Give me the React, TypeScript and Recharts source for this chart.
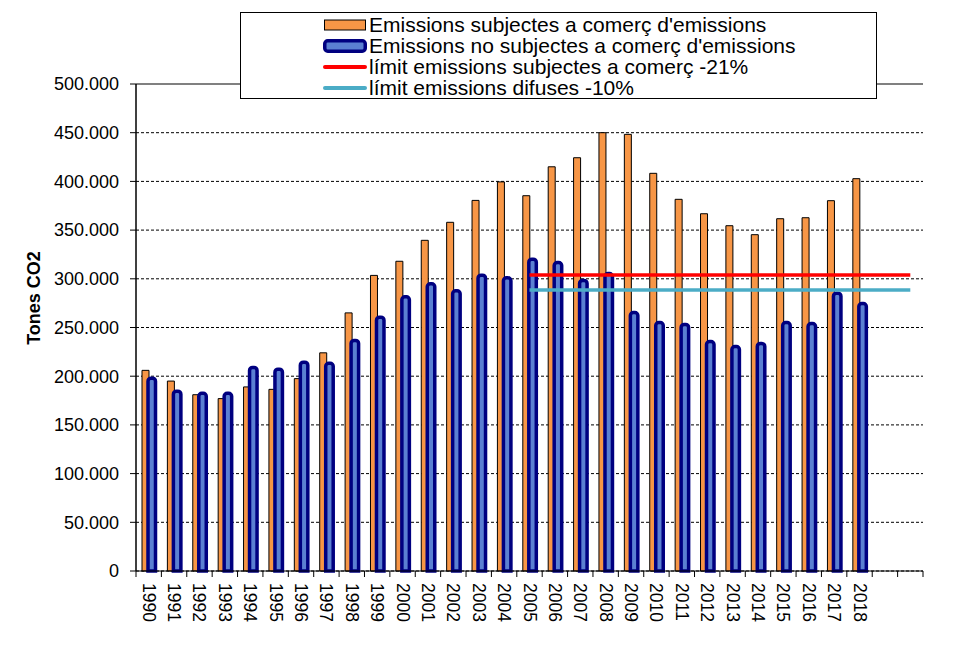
import {
  BarChart,
  Bar,
  Line,
  XAxis,
  YAxis,
  CartesianGrid,
  Legend,
  ReferenceLine,
} from 'recharts';

const years = [
  '1990', '1991', '1992', '1993', '1994', '1995', '1996', '1997', '1998', '1999',
  '2000', '2001', '2002', '2003', '2004', '2005', '2006', '2007', '2008', '2009',
  '2010', '2011', '2012', '2013', '2014', '2015', '2016', '2017', '2018', '', '',
];

// emissions subject to emissions trading (t CO2)
const tradeValues = [
  206000, 195000, 181000, 177000, 189000, 186500, 197500, 224000, 265000, 303500,
  318000, 339500, 358000, 380500, 399500, 385300, 415000, 424300, 450000, 448300,
  408300, 381600, 366800, 354500, 345300, 361700, 362700, 380200, 402800, null, null,
];

// emissions not subject to emissions trading (t CO2)
const nonTradeValues = [
  198000, 184600, 182500, 182500, 209000, 207200, 214400, 213300, 236700, 260600,
  281500, 294900, 287700, 303700, 301000, 320100, 316700, 298300, 305400, 265400,
  255100, 253100, 235600, 230500, 233600, 255100, 254100, 285200, 274600, null, null,
];

const limitTradeValues = [
  null, null, null, null, null, null, null, null, null, null,
  null, null, null, null, null, 304000, 304000, 304000, 304000, 304000,
  304000, 304000, 304000, 304000, 304000, 304000, 304000, 304000, 304000, 304000, 304000,
];

const limitDiffuseValues = [
  null, null, null, null, null, null, null, null, null, null,
  null, null, null, null, null, 288500, 288500, 288500, 288500, 288500,
  288500, 288500, 288500, 288500, 288500, 288500, 288500, 288500, 288500, 288500, 288500,
];

const yTicks = [0, 50000, 100000, 150000, 200000, 250000, 300000, 350000, 400000, 450000, 500000];

const seriesNames = {
  trade: "Emissions subjectes a comerç d'emissions",
  nonTrade: "Emissions no subjectes a comerç d'emissions",
  limitTrade: 'límit emissions subjectes a comerç -21%',
  limitDiffuse: 'límit emissions difuses -10%',
};

const data = years.map((year, i) => ({
  year,
  trade: tradeValues[i],
  nonTrade: nonTradeValues[i],
  limitTrade: limitTradeValues[i],
  limitDiffuse: limitDiffuseValues[i],
}));

const ORANGE = '#F79646';
const BLUE = '#5B80D2';
const NAVY = '#000080';
const RED = '#FF0000';
const CYAN = '#4BACC6';

const fmt = (n: number) => String(n).replace(/\B(?=(\d{3})+(?!\d))/g, '.');

function YearTick(props: any) {
  const { x, y, payload, index } = props;
  const half = payload?.offset ?? 12.7;
  const ty = y + 12;
  return (
    <g>
      <line x1={x - half} x2={x - half} y1={y} y2={y + 6} stroke="#000" />
      {index === years.length - 1 && (
        <line x1={x + half} x2={x + half} y1={y} y2={y + 6} stroke="#000" />
      )}
      <text
        x={x}
        y={ty}
        transform={`rotate(90, ${x}, ${ty})`}
        textAnchor="start"
        dominantBaseline="central"
        fontSize={17.5}
        fill="#000"
      >
        {payload.value}
      </text>
    </g>
  );
}

function LegendIcon({ kind }: { kind: string }) {
  if (kind === 'trade') {
    return (
      <svg width={44} height={14}>
        <rect x={1.5} y={2} width={41} height={10} fill={ORANGE} stroke="#000" strokeWidth={1} />
      </svg>
    );
  }
  if (kind === 'nonTrade') {
    return (
      <svg width={44} height={14}>
        <rect x={1.75} y={1.75} width={40.5} height={10.5} rx={3} fill={BLUE} stroke={NAVY} strokeWidth={3.5} />
      </svg>
    );
  }
  return (
    <svg width={44} height={14}>
      <line x1={2} x2={42} y1={7} y2={7} stroke={kind === 'limitTrade' ? RED : CYAN} strokeWidth={4} strokeLinecap="round" />
    </svg>
  );
}

function LegendBox() {
  const order = ['trade', 'nonTrade', 'limitTrade', 'limitDiffuse'] as const;
  return (
    <div
      style={{
        boxSizing: 'border-box',
        width: 637,
        height: 87,
        border: '1px solid #000',
        background: '#fff',
        paddingTop: 1,
      }}
    >
      {order.map((k) => (
        <div
          key={k}
          style={{ display: 'flex', alignItems: 'center', height: 21.2, paddingLeft: 82 }}
        >
          <LegendIcon kind={k} />
          <span style={{ fontSize: 21, color: '#000', marginLeft: 2, whiteSpace: 'nowrap' }}>
            {seriesNames[k]}
          </span>
        </div>
      ))}
    </div>
  );
}

export default function App() {
  return (
    <div
      style={{
        position: 'absolute',
        left: 0,
        top: 0,
        width: 967,
        height: 659,
        background: '#fff',
        fontFamily: '"Liberation Sans", Arial, sans-serif',
      }}
    >
      <BarChart
        width={967}
        height={659}
        data={data}
        margin={{ top: 84, right: 44, bottom: 0, left: 0 }}
        barGap={-1}
      >
        <CartesianGrid vertical={false} stroke="#000" strokeDasharray="3 2" />
        <XAxis
          dataKey="year"
          height={88}
          interval={0}
          tickLine={false}
          tickSize={0}
          tickMargin={0}
          axisLine={{ stroke: '#000', strokeWidth: 1 }}
          tick={<YearTick />}
        />
        <YAxis
          width={136}
          domain={[0, 500000]}
          ticks={yTicks}
          interval={0}
          tickFormatter={fmt}
          tickSize={6}
          tickMargin={11}
          tickLine={{ stroke: '#000' }}
          axisLine={{ stroke: '#000', strokeWidth: 1.5 }}
          tick={{ fill: '#000', fontSize: 18 }}
          label={{
            content: () => (
              <text
                x={34}
                y={298}
                transform="rotate(-90, 34, 298)"
                textAnchor="middle"
                dominantBaseline="central"
                fontSize={18}
                fontWeight="bold"
                fill="#000"
              >
                Tones CO2
              </text>
            ),
          }}
        />
        <YAxis
          yAxisId="frame"
          orientation="right"
          width={0}
          domain={[0, 1]}
          tick={false}
          tickLine={false}
          axisLine={{ stroke: '#808080', strokeWidth: 2 }}
        />
        <ReferenceLine y={500000} stroke="#808080" strokeWidth={2} />
        <Bar
          dataKey="trade"
          name={seriesNames.trade}
          fill={ORANGE}
          stroke="#000"
          strokeWidth={1}
          barSize={7}
          isAnimationActive={false}
        />
        <Bar
          dataKey="nonTrade"
          name={seriesNames.nonTrade}
          fill={BLUE}
          stroke={NAVY}
          strokeWidth={3.5}
          radius={[3, 3, 0, 0]}
          barSize={7.5}
          isAnimationActive={false}
        />
        <Line
          dataKey="limitTrade"
          name={seriesNames.limitTrade}
          stroke={RED}
          strokeWidth={3.5}
          dot={false}
          activeDot={false}
          isAnimationActive={false}
        />
        <Line
          dataKey="limitDiffuse"
          name={seriesNames.limitDiffuse}
          stroke={CYAN}
          strokeWidth={3.5}
          dot={false}
          activeDot={false}
          isAnimationActive={false}
        />
        <Legend
          layout="vertical"
          align="center"
          verticalAlign="middle"
          content={() => <LegendBox />}
          wrapperStyle={{ position: 'absolute', left: 240, top: 12, width: 637, height: 87 }}
        />
      </BarChart>
    </div>
  );
}
